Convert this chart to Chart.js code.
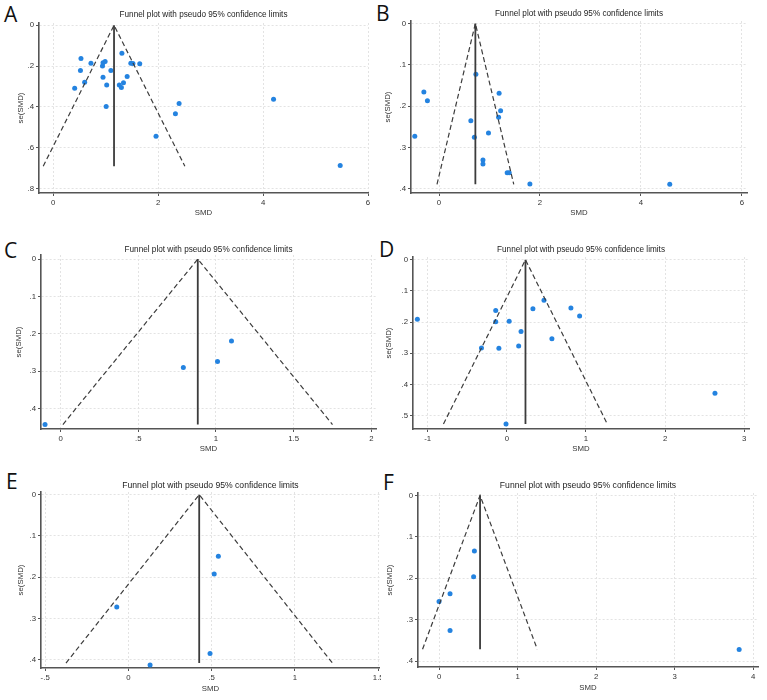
<!DOCTYPE html>
<html>
<head>
<meta charset="utf-8">
<script src="https://cdn.jsdelivr.net/npm/chart.js@4.4.0/dist/chart.umd.min.js"></script>
<style>
  body { margin: 0; background: #fff; }
  #page { position: relative; width: 767px; height: 700px; overflow: hidden; background: #fff; }
  .panel { position: absolute; overflow: hidden; }
  .panel canvas { position: absolute; left: 0; top: 0; }
  .tag { position: absolute; font-family: "Open Sans", sans-serif; font-size: 21px; line-height: 21px; color: #111; }
</style>
</head>
<body>
<div id="page">
  <div class="tag" style="left:4px;top:4px">A</div>
  <div class="tag" style="left:376px;top:3px">B</div>
  <div class="tag" style="left:4px;top:240px">C</div>
  <div class="tag" style="left:379px;top:239px">D</div>
  <div class="tag" style="left:6px;top:471px">E</div>
  <div class="tag" style="left:383px;top:472px">F</div>
</div>
<script>
// values: SMD (x) and se(SMD) (y) for each study
const smdA = [0.53, 0.52, 0.41, 0.60, 0.72, 0.94, 0.95, 0.99, 0.95, 1.02, 1.01, 1.10, 1.31, 1.26, 1.30, 1.34, 1.41, 1.48, 1.52, 1.65, 1.96, 2.33, 2.40, 4.20, 5.47];
const seA  = [0.163, 0.222, 0.308, 0.279, 0.186, 0.199, 0.184, 0.178, 0.254, 0.293, 0.398, 0.222, 0.137, 0.293, 0.305, 0.282, 0.251, 0.186, 0.187, 0.189, 0.543, 0.433, 0.383, 0.362, 0.686];

const smdB = [-0.30, -0.23, -0.48, 0.73, 0.63, 0.70, 0.98, 0.87, 0.87, 1.19, 1.22, 1.18, 1.35, 1.39, 1.80, 4.57];
const seB  = [0.166, 0.187, 0.273, 0.123, 0.235, 0.275, 0.265, 0.330, 0.340, 0.169, 0.211, 0.227, 0.361, 0.361, 0.388, 0.389];

const smdC = [-0.10, 0.79, 1.01, 1.10];
const seC  = [0.443, 0.290, 0.274, 0.219];

const smdD = [-1.13, -0.14, -0.14, 0.03, -0.32, -0.10, 0.18, 0.15, 0.33, 0.47, 0.57, 0.81, 0.92, -0.01, 2.63];
const seD  = [0.191, 0.163, 0.199, 0.197, 0.283, 0.284, 0.230, 0.277, 0.157, 0.130, 0.253, 0.155, 0.180, 0.527, 0.428];

const smdE = [-0.07, 0.13, 0.49, 0.515, 0.54];
const seE  = [0.272, 0.413, 0.385, 0.192, 0.149];

const smdF = [0.00, 0.14, 0.14, 0.45, 0.44, 3.82];
const seF  = [0.256, 0.237, 0.326, 0.134, 0.196, 0.372];

// funnel: [left limit at bottom, pooled SMD, right limit at bottom], and the se at the bottom
const funnelA = [-0.19, 1.16, 2.51];  const seMaxA = 0.69;
const funnelB = [-0.04, 0.72, 1.48];  const seMaxB = 0.389;
const funnelC = [0.015, 0.883, 1.75]; const seMaxC = 0.443;
const funnelD = [-0.80, 0.236, 1.27]; const seMaxD = 0.527;
const funnelE = [-0.375, 0.425, 1.225]; const seMaxE = 0.408;
const funnelF = [-0.21, 0.522, 1.25]; const seMaxF = 0.371;

// tick values
const xTicksA = [0, 2, 4, 6];         const yTicksA = [0, 0.2, 0.4, 0.6, 0.8];
const xTicksB = [0, 2, 4, 6];         const yTicksB = [0, 0.1, 0.2, 0.3, 0.4];
const xTicksC = [0, 0.5, 1, 1.5, 2];  const yTicksC = [0, 0.1, 0.2, 0.3, 0.4];
const xTicksD = [-1, 0, 1, 2, 3];     const yTicksD = [0, 0.1, 0.2, 0.3, 0.4, 0.5];
const xTicksE = [-0.5, 0, 0.5, 1, 1.5]; const yTicksE = [0, 0.1, 0.2, 0.3, 0.4];
const xTicksF = [0, 1, 2, 3, 4];      const yTicksF = [0, 0.1, 0.2, 0.3, 0.4];

const titleText = "Funnel plot with pseudo 95% confidence limits";
const xTitle = "SMD";
const yTitle = "se(SMD)";

Chart.defaults.font.family = '"Liberation Sans", Arial, sans-serif';
Chart.defaults.color = "#333";

const dotColor = "#2483e0";
const lineColor = "#3c3c3c";

// stata style: .2 instead of 0.2
function stataLabel(v) {
    let s = String(Math.round(v * 100) / 100);
    return s.replace(/^(-?)0\./, "$1.");
}

function makePanel(cfg) {
    const [bx, by, bw, bh] = cfg.box;
    const [l, t, r, b] = cfg.area;

    const wrap = document.createElement("div");
    wrap.className = "panel";
    wrap.style.left = bx + "px";
    wrap.style.top = by + "px";
    wrap.style.width = (cfg.clipW || bw) + "px";
    wrap.style.height = bh + "px";
    const cv = document.createElement("canvas");
    cv.width = bw;
    cv.height = bh;
    wrap.appendChild(cv);
    document.getElementById("page").appendChild(wrap);

    const tLh = cfg.titleSize * 1.2;
    const tTop = cfg.titleY - by - tLh / 2;
    const tBottom = (t - by) - tLh - tTop;
    const axSize = 7.8, axLh = axSize * 1.2;
    const tickLen = 3;

    const pts = cfg.smd.map((v, i) => ({ x: v, y: cfg.se[i] }));

    new Chart(cv, {
        type: "scatter",
        data: {
            datasets: [
                {
                    type: "line",
                    data: [
                        { x: cfg.funnel[0], y: cfg.seMax },
                        { x: cfg.funnel[1], y: 0 },
                        { x: cfg.funnel[2], y: cfg.seMax }
                    ],
                    borderColor: lineColor,
                    borderWidth: 1.2,
                    borderDash: [5, 3],
                    pointRadius: 0,
                    fill: false
                },
                {
                    type: "line",
                    data: [
                        { x: cfg.funnel[1], y: 0 },
                        { x: cfg.funnel[1], y: cfg.seMax }
                    ],
                    borderColor: lineColor,
                    borderWidth: 1.8,
                    pointRadius: 0,
                    fill: false
                },
                {
                    data: pts,
                    pointBackgroundColor: dotColor,
                    pointBorderWidth: 0,
                    pointRadius: 2.5
                }
            ]
        },
        options: {
            responsive: false,
            animation: false,
            devicePixelRatio: 1,
            layout: { padding: { left: 0, top: 0, right: bx + bw - r, bottom: 0 } },
            plugins: {
                legend: { display: false },
                tooltip: { enabled: false },
                title: {
                    display: true,
                    text: titleText,
                    fullSize: false,
                    color: "#222",
                    font: { size: cfg.titleSize, lineHeight: 1.2, weight: "normal" },
                    padding: { top: tTop, bottom: tBottom }
                }
            },
            scales: {
                x: {
                    type: "linear",
                    min: cfg.xRange[0],
                    max: cfg.xRange[1],
                    afterFit: s => { s.height = by + bh - b; },
                    afterBuildTicks: s => { s.ticks = cfg.xTicks.map(v => ({ value: v })); },
                    ticks: {
                        callback: stataLabel,
                        maxRotation: 0,
                        autoSkip: false,
                        padding: 10 - tickLen - axLh / 2,
                        font: { size: axSize },
                        color: "#333"
                    },
                    grid: { color: "#e3e3e3", tickColor: "#555", tickLength: tickLen, tickWidth: 1 },
                    border: { color: "#555", width: 1.6, dash: [2, 2] },
                    title: {
                        display: true,
                        text: xTitle,
                        color: "#333",
                        font: { size: axSize, lineHeight: 1.2 },
                        padding: { top: 0, bottom: by + bh - cfg.xTitleY - axLh / 2 }
                    }
                },
                y: {
                    type: "linear",
                    reverse: true,
                    min: cfg.yRange[0],
                    max: cfg.yRange[1],
                    afterFit: s => { s.width = l - bx; },
                    afterBuildTicks: s => { s.ticks = cfg.yTicks.map(v => ({ value: v })); },
                    ticks: {
                        callback: stataLabel,
                        autoSkip: false,
                        padding: 2,
                        font: { size: axSize },
                        color: "#333"
                    },
                    grid: { color: "#e3e3e3", tickColor: "#555", tickLength: tickLen, tickWidth: 1 },
                    border: { color: "#555", width: 1.6, dash: [2, 2] },
                    title: {
                        display: true,
                        text: yTitle,
                        color: "#333",
                        font: { size: axSize, lineHeight: 1.2 },
                        padding: { top: cfg.yTitleX - bx - axLh / 2, bottom: 0 }
                    }
                }
            }
        }
    });
}

makePanel({ smd: smdA, se: seA, funnel: funnelA, seMax: seMaxA, xTicks: xTicksA, yTicks: yTicksA,
    xRange: [-0.27, 6.0], yRange: [-0.011, 0.821],
    box: [0, 0, 384, 228], area: [39, 23, 368, 193], titleY: 15, titleSize: 8.2, yTitleX: 21, xTitleY: 213 });

makePanel({ smd: smdB, se: seB, funnel: funnelB, seMax: seMaxB, xTicks: xTicksB, yTicks: yTicksB,
    xRange: [-0.555, 6.1], yRange: [-0.006, 0.41],
    box: [380, 0, 387, 228], area: [411, 21, 747, 193], titleY: 13.3, titleSize: 8.2, yTitleX: 388, xTitleY: 212.5 });

makePanel({ smd: smdC, se: seC, funnel: funnelC, seMax: seMaxC, xTicks: xTicksC, yTicks: yTicksC,
    xRange: [-0.126, 2.03], yRange: [-0.011, 0.455],
    box: [0, 228, 384, 236], area: [41, 255, 376, 429], titleY: 249.7, titleSize: 8.2, yTitleX: 18.5, xTitleY: 448.7 });

makePanel({ smd: smdD, se: seD, funnel: funnelD, seMax: seMaxD, xTicks: xTicksD, yTicks: yTicksD,
    xRange: [-1.185, 3.06], yRange: [-0.009, 0.543],
    box: [376, 228, 391, 236], area: [413, 257, 749, 429], titleY: 249.7, titleSize: 8.2, yTitleX: 388.5, xTitleY: 448.7 });

makePanel({ smd: smdE, se: seE, funnel: funnelE, seMax: seMaxE, xTicks: xTicksE, yTicks: yTicksE,
    xRange: [-0.525, 1.51], yRange: [-0.0065, 0.42],
    box: [0, 464, 386, 236], clipW: 381, area: [41, 492, 380, 668], titleY: 485.3, titleSize: 8.6, yTitleX: 20.7, xTitleY: 689 });

makePanel({ smd: smdF, se: seF, funnel: funnelF, seMax: seMaxF, xTicks: xTicksF, yTicks: yTicksF,
    xRange: [-0.268, 4.06], yRange: [-0.006, 0.414],
    box: [380, 464, 387, 236], area: [418, 493, 758, 667], titleY: 485.3, titleSize: 8.6, yTitleX: 390, xTitleY: 688 });
</script>
</body>
</html>
